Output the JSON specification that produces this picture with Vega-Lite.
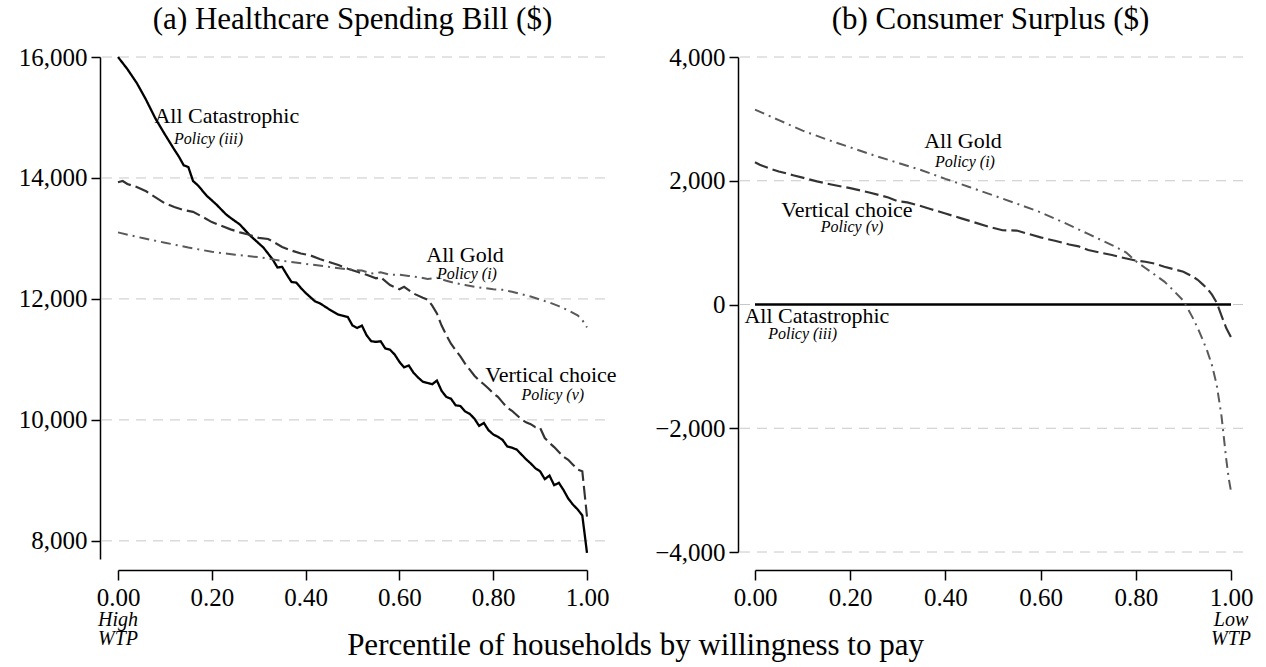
{
  "$schema": "https://vega.github.io/schema/vega-lite/v6.json",
  "background": "white",
  "padding": {"left": 18, "top": 4, "right": 5, "bottom": 5},
  "bounds": "flush",
  "spacing": 133,
  "config": {
    "font": "Liberation Serif",
    "view": {"stroke": null},
    "axis": {"labelFont": "Liberation Serif", "labelFontSize": 25, "labelColor": "black", "domainColor": "black", "tickColor": "black", "domainWidth": 1.5, "tickWidth": 1.5, "grid": false, "title": null, "labelFlush": false, "labelOverlap": false},
    "title": {"font": "Liberation Serif", "fontSize": 31, "fontWeight": "normal", "color": "black", "frame": "group", "offset": 9},
    "text": {"font": "Liberation Serif", "color": "black"}
  },
  "title": {"text": "Percentile of households by willingness to pay", "orient": "bottom", "anchor": "middle", "frame": "bounds", "fontSize": 31, "offset": -18},
  "resolve": {"scale": {"x": "independent", "y": "independent"}},
  "datasets": {
    "left": [
      {"s":"Catastrophic","p":0.00,"v":16000},{"s":"Catastrophic","p":0.02,"v":15800},{"s":"Catastrophic","p":0.04,"v":15570},{"s":"Catastrophic","p":0.06,"v":15290},{"s":"Catastrophic","p":0.08,"v":14980},{"s":"Catastrophic","p":0.10,"v":14720},{"s":"Catastrophic","p":0.12,"v":14470},{"s":"Catastrophic","p":0.13,"v":14350},{"s":"Catastrophic","p":0.14,"v":14210},{"s":"Catastrophic","p":0.15,"v":14180},{"s":"Catastrophic","p":0.16,"v":13950},{"s":"Catastrophic","p":0.17,"v":13880},{"s":"Catastrophic","p":0.19,"v":13700},{"s":"Catastrophic","p":0.21,"v":13560},{"s":"Catastrophic","p":0.23,"v":13400},{"s":"Catastrophic","p":0.24,"v":13340},{"s":"Catastrophic","p":0.26,"v":13230},{"s":"Catastrophic","p":0.28,"v":13060},{"s":"Catastrophic","p":0.30,"v":12920},{"s":"Catastrophic","p":0.31,"v":12850},{"s":"Catastrophic","p":0.33,"v":12650},{"s":"Catastrophic","p":0.34,"v":12520},{"s":"Catastrophic","p":0.35,"v":12530},{"s":"Catastrophic","p":0.36,"v":12400},{"s":"Catastrophic","p":0.37,"v":12280},{"s":"Catastrophic","p":0.38,"v":12270},{"s":"Catastrophic","p":0.39,"v":12180},{"s":"Catastrophic","p":0.40,"v":12100},{"s":"Catastrophic","p":0.42,"v":11960},{"s":"Catastrophic","p":0.43,"v":11930},{"s":"Catastrophic","p":0.45,"v":11830},{"s":"Catastrophic","p":0.47,"v":11740},{"s":"Catastrophic","p":0.49,"v":11700},{"s":"Catastrophic","p":0.50,"v":11560},{"s":"Catastrophic","p":0.51,"v":11520},{"s":"Catastrophic","p":0.52,"v":11560},{"s":"Catastrophic","p":0.53,"v":11400},{"s":"Catastrophic","p":0.54,"v":11300},{"s":"Catastrophic","p":0.55,"v":11290},{"s":"Catastrophic","p":0.56,"v":11300},{"s":"Catastrophic","p":0.57,"v":11180},{"s":"Catastrophic","p":0.58,"v":11160},{"s":"Catastrophic","p":0.59,"v":11080},{"s":"Catastrophic","p":0.60,"v":10960},{"s":"Catastrophic","p":0.61,"v":10870},{"s":"Catastrophic","p":0.62,"v":10900},{"s":"Catastrophic","p":0.63,"v":10780},{"s":"Catastrophic","p":0.64,"v":10700},{"s":"Catastrophic","p":0.65,"v":10630},{"s":"Catastrophic","p":0.66,"v":10610},{"s":"Catastrophic","p":0.67,"v":10590},{"s":"Catastrophic","p":0.68,"v":10650},{"s":"Catastrophic","p":0.69,"v":10480},{"s":"Catastrophic","p":0.70,"v":10380},{"s":"Catastrophic","p":0.71,"v":10350},{"s":"Catastrophic","p":0.72,"v":10240},{"s":"Catastrophic","p":0.73,"v":10230},{"s":"Catastrophic","p":0.74,"v":10140},{"s":"Catastrophic","p":0.75,"v":10100},{"s":"Catastrophic","p":0.76,"v":10020},{"s":"Catastrophic","p":0.77,"v":9900},{"s":"Catastrophic","p":0.78,"v":9950},{"s":"Catastrophic","p":0.79,"v":9830},{"s":"Catastrophic","p":0.80,"v":9760},{"s":"Catastrophic","p":0.81,"v":9720},{"s":"Catastrophic","p":0.82,"v":9670},{"s":"Catastrophic","p":0.83,"v":9560},{"s":"Catastrophic","p":0.84,"v":9540},{"s":"Catastrophic","p":0.85,"v":9510},{"s":"Catastrophic","p":0.86,"v":9430},{"s":"Catastrophic","p":0.87,"v":9350},{"s":"Catastrophic","p":0.88,"v":9280},{"s":"Catastrophic","p":0.89,"v":9200},{"s":"Catastrophic","p":0.90,"v":9150},{"s":"Catastrophic","p":0.91,"v":9020},{"s":"Catastrophic","p":0.92,"v":9080},{"s":"Catastrophic","p":0.93,"v":8920},{"s":"Catastrophic","p":0.94,"v":8960},{"s":"Catastrophic","p":0.95,"v":8840},{"s":"Catastrophic","p":0.96,"v":8700},{"s":"Catastrophic","p":0.97,"v":8600},{"s":"Catastrophic","p":0.98,"v":8520},{"s":"Catastrophic","p":0.99,"v":8420},{"s":"Catastrophic","p":1.00,"v":7800},
      {"s":"Vertical","p":0.00,"v":13930},{"s":"Vertical","p":0.01,"v":13950},{"s":"Vertical","p":0.02,"v":13900},{"s":"Vertical","p":0.04,"v":13850},{"s":"Vertical","p":0.06,"v":13780},{"s":"Vertical","p":0.08,"v":13680},{"s":"Vertical","p":0.10,"v":13580},{"s":"Vertical","p":0.12,"v":13520},{"s":"Vertical","p":0.14,"v":13470},{"s":"Vertical","p":0.16,"v":13440},{"s":"Vertical","p":0.18,"v":13360},{"s":"Vertical","p":0.20,"v":13270},{"s":"Vertical","p":0.22,"v":13210},{"s":"Vertical","p":0.24,"v":13150},{"s":"Vertical","p":0.26,"v":13100},{"s":"Vertical","p":0.28,"v":13060},{"s":"Vertical","p":0.30,"v":13010},{"s":"Vertical","p":0.32,"v":12990},{"s":"Vertical","p":0.33,"v":12950},{"s":"Vertical","p":0.35,"v":12860},{"s":"Vertical","p":0.37,"v":12800},{"s":"Vertical","p":0.39,"v":12750},{"s":"Vertical","p":0.41,"v":12720},{"s":"Vertical","p":0.43,"v":12660},{"s":"Vertical","p":0.45,"v":12610},{"s":"Vertical","p":0.47,"v":12560},{"s":"Vertical","p":0.49,"v":12500},{"s":"Vertical","p":0.51,"v":12450},{"s":"Vertical","p":0.53,"v":12400},{"s":"Vertical","p":0.55,"v":12340},{"s":"Vertical","p":0.56,"v":12360},{"s":"Vertical","p":0.58,"v":12230},{"s":"Vertical","p":0.60,"v":12160},{"s":"Vertical","p":0.61,"v":12200},{"s":"Vertical","p":0.63,"v":12090},{"s":"Vertical","p":0.65,"v":12020},{"s":"Vertical","p":0.66,"v":11990},{"s":"Vertical","p":0.67,"v":11890},{"s":"Vertical","p":0.68,"v":11760},{"s":"Vertical","p":0.69,"v":11560},{"s":"Vertical","p":0.70,"v":11400},{"s":"Vertical","p":0.71,"v":11260},{"s":"Vertical","p":0.72,"v":11150},{"s":"Vertical","p":0.73,"v":11050},{"s":"Vertical","p":0.74,"v":10930},{"s":"Vertical","p":0.75,"v":10830},{"s":"Vertical","p":0.76,"v":10730},{"s":"Vertical","p":0.77,"v":10650},{"s":"Vertical","p":0.78,"v":10590},{"s":"Vertical","p":0.79,"v":10520},{"s":"Vertical","p":0.80,"v":10440},{"s":"Vertical","p":0.81,"v":10380},{"s":"Vertical","p":0.82,"v":10290},{"s":"Vertical","p":0.83,"v":10200},{"s":"Vertical","p":0.84,"v":10150},{"s":"Vertical","p":0.85,"v":10080},{"s":"Vertical","p":0.86,"v":10010},{"s":"Vertical","p":0.87,"v":9960},{"s":"Vertical","p":0.88,"v":9930},{"s":"Vertical","p":0.89,"v":9880},{"s":"Vertical","p":0.90,"v":9870},{"s":"Vertical","p":0.91,"v":9700},{"s":"Vertical","p":0.92,"v":9620},{"s":"Vertical","p":0.93,"v":9550},{"s":"Vertical","p":0.94,"v":9470},{"s":"Vertical","p":0.95,"v":9390},{"s":"Vertical","p":0.96,"v":9340},{"s":"Vertical","p":0.97,"v":9260},{"s":"Vertical","p":0.98,"v":9180},{"s":"Vertical","p":0.99,"v":9150},{"s":"Vertical","p":1.00,"v":8400},
      {"s":"Gold","p":0.00,"v":13100},{"s":"Gold","p":0.05,"v":13010},{"s":"Gold","p":0.10,"v":12930},{"s":"Gold","p":0.15,"v":12850},{"s":"Gold","p":0.20,"v":12780},{"s":"Gold","p":0.25,"v":12730},{"s":"Gold","p":0.30,"v":12690},{"s":"Gold","p":0.35,"v":12630},{"s":"Gold","p":0.40,"v":12580},{"s":"Gold","p":0.45,"v":12530},{"s":"Gold","p":0.50,"v":12480},{"s":"Gold","p":0.52,"v":12470},{"s":"Gold","p":0.54,"v":12420},{"s":"Gold","p":0.56,"v":12440},{"s":"Gold","p":0.58,"v":12400},{"s":"Gold","p":0.60,"v":12400},{"s":"Gold","p":0.62,"v":12380},{"s":"Gold","p":0.64,"v":12360},{"s":"Gold","p":0.66,"v":12330},{"s":"Gold","p":0.68,"v":12350},{"s":"Gold","p":0.70,"v":12300},{"s":"Gold","p":0.72,"v":12260},{"s":"Gold","p":0.74,"v":12230},{"s":"Gold","p":0.76,"v":12200},{"s":"Gold","p":0.78,"v":12180},{"s":"Gold","p":0.80,"v":12160},{"s":"Gold","p":0.82,"v":12150},{"s":"Gold","p":0.84,"v":12120},{"s":"Gold","p":0.86,"v":12080},{"s":"Gold","p":0.88,"v":12040},{"s":"Gold","p":0.90,"v":11990},{"s":"Gold","p":0.92,"v":11940},{"s":"Gold","p":0.94,"v":11880},{"s":"Gold","p":0.96,"v":11810},{"s":"Gold","p":0.98,"v":11730},{"s":"Gold","p":0.99,"v":11650},{"s":"Gold","p":1.00,"v":11530}
    ],
    "right": [
      {"s":"Catastrophic","p":0.00,"v":0},{"s":"Catastrophic","p":0.50,"v":0},{"s":"Catastrophic","p":1.00,"v":0},
      {"s":"Vertical","p":0.00,"v":2300},{"s":"Vertical","p":0.01,"v":2260},{"s":"Vertical","p":0.03,"v":2200},{"s":"Vertical","p":0.05,"v":2150},{"s":"Vertical","p":0.08,"v":2090},{"s":"Vertical","p":0.10,"v":2050},{"s":"Vertical","p":0.13,"v":1990},{"s":"Vertical","p":0.16,"v":1940},{"s":"Vertical","p":0.20,"v":1880},{"s":"Vertical","p":0.24,"v":1810},{"s":"Vertical","p":0.28,"v":1730},{"s":"Vertical","p":0.30,"v":1670},{"s":"Vertical","p":0.32,"v":1650},{"s":"Vertical","p":0.34,"v":1610},{"s":"Vertical","p":0.37,"v":1540},{"s":"Vertical","p":0.40,"v":1470},{"s":"Vertical","p":0.43,"v":1400},{"s":"Vertical","p":0.46,"v":1330},{"s":"Vertical","p":0.49,"v":1260},{"s":"Vertical","p":0.52,"v":1200},{"s":"Vertical","p":0.55,"v":1195},{"s":"Vertical","p":0.57,"v":1150},{"s":"Vertical","p":0.60,"v":1085},{"s":"Vertical","p":0.63,"v":1030},{"s":"Vertical","p":0.66,"v":970},{"s":"Vertical","p":0.68,"v":940},{"s":"Vertical","p":0.70,"v":880},{"s":"Vertical","p":0.73,"v":830},{"s":"Vertical","p":0.75,"v":800},{"s":"Vertical","p":0.77,"v":760},{"s":"Vertical","p":0.80,"v":710},{"s":"Vertical","p":0.82,"v":690},{"s":"Vertical","p":0.84,"v":660},{"s":"Vertical","p":0.86,"v":610},{"s":"Vertical","p":0.88,"v":570},{"s":"Vertical","p":0.90,"v":530},{"s":"Vertical","p":0.91,"v":490},{"s":"Vertical","p":0.92,"v":450},{"s":"Vertical","p":0.93,"v":400},{"s":"Vertical","p":0.94,"v":330},{"s":"Vertical","p":0.95,"v":260},{"s":"Vertical","p":0.96,"v":160},{"s":"Vertical","p":0.97,"v":30},{"s":"Vertical","p":0.98,"v":-180},{"s":"Vertical","p":0.99,"v":-380},{"s":"Vertical","p":1.00,"v":-530},
      {"s":"Gold","p":0.00,"v":3150},{"s":"Gold","p":0.05,"v":2980},{"s":"Gold","p":0.10,"v":2810},{"s":"Gold","p":0.15,"v":2670},{"s":"Gold","p":0.20,"v":2540},{"s":"Gold","p":0.25,"v":2410},{"s":"Gold","p":0.30,"v":2290},{"s":"Gold","p":0.35,"v":2170},{"s":"Gold","p":0.40,"v":2030},{"s":"Gold","p":0.45,"v":1900},{"s":"Gold","p":0.50,"v":1765},{"s":"Gold","p":0.55,"v":1630},{"s":"Gold","p":0.60,"v":1490},{"s":"Gold","p":0.65,"v":1320},{"s":"Gold","p":0.70,"v":1140},{"s":"Gold","p":0.75,"v":960},{"s":"Gold","p":0.78,"v":840},{"s":"Gold","p":0.80,"v":700},{"s":"Gold","p":0.82,"v":590},{"s":"Gold","p":0.84,"v":480},{"s":"Gold","p":0.86,"v":370},{"s":"Gold","p":0.88,"v":220},{"s":"Gold","p":0.90,"v":60},{"s":"Gold","p":0.91,"v":-80},{"s":"Gold","p":0.92,"v":-220},{"s":"Gold","p":0.93,"v":-380},{"s":"Gold","p":0.94,"v":-560},{"s":"Gold","p":0.95,"v":-750},{"s":"Gold","p":0.96,"v":-980},{"s":"Gold","p":0.97,"v":-1300},{"s":"Gold","p":0.98,"v":-1800},{"s":"Gold","p":0.99,"v":-2500},{"s":"Gold","p":0.995,"v":-2800},{"s":"Gold","p":1.00,"v":-3020}
    ],
    "gridL": [{"v":8000},{"v":10000},{"v":12000},{"v":14000},{"v":16000}],
    "gridR": [{"v":-4000},{"v":-2000},{"v":0},{"v":2000},{"v":4000}],
    "labL": [{"t":"All Catastrophic","p":0.232,"v":14909},{"t":"All Gold","p":0.740,"v":12612},{"t":"Vertical choice","p":0.923,"v":10628}],
    "polL": [{"t":"Policy (iii)","p":0.193,"v":14560},{"t":"Policy (i)","p":0.744,"v":12330},{"t":"Policy (v)","p":0.927,"v":10330}],
    "labR": [{"t":"All Gold","p":0.437,"v":2529},{"t":"Vertical choice","p":0.193,"v":1414},{"t":"All Catastrophic","p":0.130,"v":-299}],
    "polR": [{"t":"Policy (i)","p":0.441,"v":2225},{"t":"Policy (v)","p":0.204,"v":1170},{"t":"Policy (iii)","p":0.10,"v":-550}],
    "wtpL": [{"t":"High\nWTP","p":0,"v":6590}],
    "wtpR": [{"t":"Low\nWTP","p":1,"v":-5200}]
  },
  "hconcat": [
    {
      "width": 505,
      "height": 502,
      "title": {"text": "(a) Healthcare Spending Bill ($)"},
      "layer": [
        {
          "data": {"name": "gridL"},
          "mark": {"type": "rule", "stroke": "#c8c8c8", "strokeDash": [10, 7], "strokeWidth": 1},
          "encoding": {
            "y": {"field": "v", "type": "quantitative", "scale": {"domain": [7700, 16000], "nice": false, "zero": false},
                  "axis": {"values": [8000, 10000, 12000, 14000, 16000], "format": ",.0f", "tickSize": 9, "labelPadding": 4}}
          }
        },
        {
          "data": {"name": "left"},
          "mark": {"type": "line", "strokeCap": "butt"},
          "encoding": {
            "x": {"field": "p", "type": "quantitative", "scale": {"domain": [0, 1], "range": [18, 487], "nice": false, "zero": false},
                  "axis": {"values": [0, 0.2, 0.4, 0.6, 0.8, 1], "format": ".2f", "tickSize": 10, "labelPadding": 5, "offset": 11}},
            "y": {"field": "v", "type": "quantitative"},
            "color": {"field": "s", "type": "nominal", "scale": {"domain": ["Catastrophic", "Vertical", "Gold"], "range": ["#000000", "#333333", "#5a5a5a"]}, "legend": null},
            "strokeDash": {"field": "s", "type": "nominal", "scale": {"domain": ["Catastrophic", "Vertical", "Gold"], "range": [[1, 0], [14, 5], [10, 5, 2, 5]]}, "legend": null},
            "strokeWidth": {"field": "s", "type": "nominal", "scale": {"domain": ["Catastrophic", "Vertical", "Gold"], "range": [2.3, 2, 1.8]}, "legend": null}
          }
        },
        {
          "data": {"name": "labL"},
          "mark": {"type": "text", "fontSize": 22, "align": "center", "baseline": "alphabetic"},
          "encoding": {"x": {"field": "p", "type": "quantitative"}, "y": {"field": "v", "type": "quantitative"}, "text": {"field": "t"}}
        },
        {
          "data": {"name": "polL"},
          "mark": {"type": "text", "fontSize": 16, "fontStyle": "italic", "align": "center", "baseline": "alphabetic"},
          "encoding": {"x": {"field": "p", "type": "quantitative"}, "y": {"field": "v", "type": "quantitative"}, "text": {"field": "t"}}
        },
        {
          "data": {"name": "wtpL"},
          "mark": {"type": "text", "fontSize": 20, "fontStyle": "italic", "align": "center", "baseline": "alphabetic", "lineBreak": "\n", "lineHeight": 19},
          "encoding": {"x": {"field": "p", "type": "quantitative"}, "y": {"field": "v", "type": "quantitative"}, "text": {"field": "t"}}
        }
      ]
    },
    {
      "width": 505,
      "height": 495,
      "title": {"text": "(b) Consumer Surplus ($)"},
      "layer": [
        {
          "data": {"name": "gridR"},
          "mark": {"type": "rule", "stroke": "#c8c8c8", "strokeDash": [10, 7], "strokeWidth": 1},
          "encoding": {
            "y": {"field": "v", "type": "quantitative", "scale": {"domain": [-4000, 4000], "nice": false, "zero": false},
                  "axis": {"values": [-4000, -2000, 0, 2000, 4000], "format": ",.0f", "tickSize": 9, "labelPadding": 4}}
          }
        },
        {
          "data": {"name": "right"},
          "mark": {"type": "line", "strokeCap": "butt"},
          "encoding": {
            "x": {"field": "p", "type": "quantitative", "scale": {"domain": [0, 1], "range": [17, 493], "nice": false, "zero": false},
                  "axis": {"values": [0, 0.2, 0.4, 0.6, 0.8, 1], "format": ".2f", "tickSize": 10, "labelPadding": 5, "offset": 18}},
            "y": {"field": "v", "type": "quantitative"},
            "color": {"field": "s", "type": "nominal", "scale": {"domain": ["Catastrophic", "Vertical", "Gold"], "range": ["#000000", "#333333", "#5a5a5a"]}, "legend": null},
            "strokeDash": {"field": "s", "type": "nominal", "scale": {"domain": ["Catastrophic", "Vertical", "Gold"], "range": [[1, 0], [14, 5], [10, 5, 2, 5]]}, "legend": null},
            "strokeWidth": {"field": "s", "type": "nominal", "scale": {"domain": ["Catastrophic", "Vertical", "Gold"], "range": [2.3, 2, 1.8]}, "legend": null}
          }
        },
        {
          "data": {"name": "labR"},
          "mark": {"type": "text", "fontSize": 22, "align": "center", "baseline": "alphabetic"},
          "encoding": {"x": {"field": "p", "type": "quantitative"}, "y": {"field": "v", "type": "quantitative"}, "text": {"field": "t"}}
        },
        {
          "data": {"name": "polR"},
          "mark": {"type": "text", "fontSize": 16, "fontStyle": "italic", "align": "center", "baseline": "alphabetic"},
          "encoding": {"x": {"field": "p", "type": "quantitative"}, "y": {"field": "v", "type": "quantitative"}, "text": {"field": "t"}}
        },
        {
          "data": {"name": "wtpR"},
          "mark": {"type": "text", "fontSize": 20, "fontStyle": "italic", "align": "center", "baseline": "alphabetic", "lineBreak": "\n", "lineHeight": 19},
          "encoding": {"x": {"field": "p", "type": "quantitative"}, "y": {"field": "v", "type": "quantitative"}, "text": {"field": "t"}}
        }
      ]
    }
  ]
}
